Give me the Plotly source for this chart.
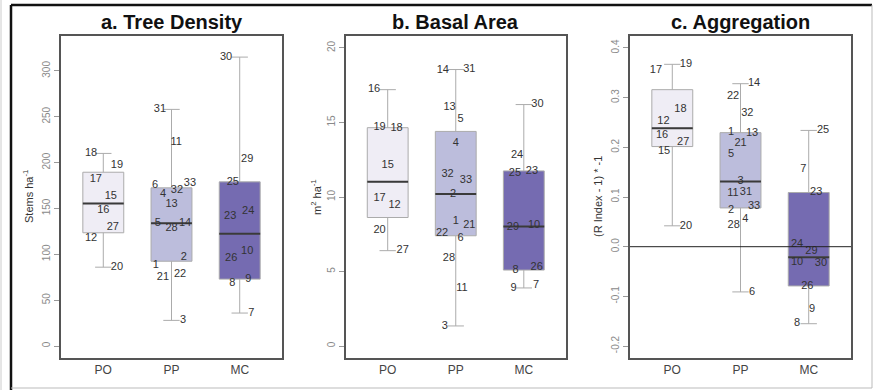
import numpy as np
import plotly.graph_objects as go

# ---------------------------------------------------------------- data
groups = ["PO", "PP", "MC"]

# plot IDs in each management group
po_ids = [12, 15, 16, 17, 18, 19, 20, 27]
pp_ids = [1, 2, 3, 4, 5, 6, 11, 13, 14, 21, 22, 28, 31, 32, 33]
mc_ids = [7, 8, 9, 10, 23, 24, 25, 26, 29, 30]

# a. tree density (stems per ha)
density_po = [118, 163, 148, 182, 210, 197, 86, 129]
density_pp = [88, 97, 28, 165, 134, 175, 222, 155, 134, 75, 78, 128, 258, 170, 178]
density_mc = [36, 69, 73, 103, 142, 147, 179, 96, 204, 315]

# b. basal area (m2 per ha)
basal_po = [9.45, 12.15, 17.2, 9.9, 14.6, 14.7, 7.8, 6.4]
basal_pp = [8.4, 10.2, 1.35, 13.6, 15.2, 7.2, 3.9, 16.05, 18.5, 8.1, 7.6, 5.9, 18.55, 11.5, 11.1]
basal_mc = [4.1, 5.1, 3.9, 8.1, 11.75, 12.8, 11.6, 5.3, 7.95, 16.2]

# c. aggregation, (R index - 1) * -1
aggr_po = [0.252, 0.193, 0.225, 0.355, 0.277, 0.367, 0.042, 0.210]
aggr_pp = [0.230, 0.074, 0.131, 0.056, 0.187, -0.091, 0.108, 0.229, 0.328, 0.209,
           0.302, 0.044, 0.110, 0.269, 0.082]
aggr_mc = [0.155, -0.155, -0.125, -0.032, 0.109, 0.004, 0.234, -0.079, -0.010, -0.034]

# y tick labels
density_ticks = [0, 50, 100, 150, 200, 250, 300]
basal_ticks = [0, 5, 10, 15, 20]
aggr_ticks = [-0.2, -0.1, 0.0, 0.1, 0.2, 0.3, 0.4]
aggr_ticklabels = ["-0.2", "-0.1", "0.0", "0.1", "0.2", "0.3", "0.4"]

# ------------------------------------------------ label nudges (x units)
density_dx = [
    [-0.18, 0.11, 0.0, -0.11, -0.18, 0.20, 0.20, 0.14],
    [-0.23, 0.18, 0.17, -0.125, -0.20, -0.24, 0.07, 0.0, 0.20, -0.125, 0.125, 0.0, -0.17, 0.08, 0.27],
    [0.17, -0.11, 0.125, 0.11, -0.14, 0.125, -0.10, -0.125, 0.11, -0.20],
]
basal_dx = [
    [0.10, 0.0, -0.20, -0.12, 0.13, -0.12, -0.12, 0.22],
    [0.0, -0.04, -0.16, 0.0, 0.07, 0.07, 0.09, -0.09, -0.19, 0.20, -0.20, -0.10, 0.20, -0.12, 0.15],
    [0.18, -0.12, -0.15, 0.15, 0.12, -0.10, -0.13, 0.19, -0.16, 0.20],
]
aggr_dx = [
    [-0.13, -0.12, -0.15, -0.24, 0.12, 0.20, 0.20, 0.16],
    [-0.14, -0.14, 0.0, 0.07, -0.14, 0.17, -0.11, 0.17, 0.20, 0.0, -0.11, -0.10, 0.08, 0.10, 0.20],
    [-0.08, -0.17, 0.05, -0.17, 0.11, -0.17, 0.21, -0.02, 0.04, 0.18],
]

# ---------------------------------------------------------------- style
W, H = 875, 390
FONT = "Liberation Sans, Arial, sans-serif"
fills = ["#EFEDF5", "#BCBDDC", "#756BB1"]
ids = [po_ids, pp_ids, mc_ids]

panels = [
    dict(title="a. Tree Density", ytitle="Stems ha<sup>-1</sup>",
         values=[density_po, density_pp, density_mc], dx=density_dx,
         ticks=density_ticks, ticktext=[str(t) for t in density_ticks],
         yrange=[-13, 338], left=61, right=282, ytitle_x=28),
    dict(title="b. Basal Area", ytitle="m<sup>2</sup> ha<sup>-1</sup>",
         values=[basal_po, basal_pp, basal_mc], dx=basal_dx,
         ticks=basal_ticks, ticktext=[str(t) for t in basal_ticks],
         yrange=[-0.8, 20.8], left=345.5, right=566, ytitle_x=316),
    dict(title="c. Aggregation", ytitle="(R Index - 1) * -1",
         values=[aggr_po, aggr_pp, aggr_mc], dx=aggr_dx,
         ticks=aggr_ticks, ticktext=aggr_ticklabels,
         yrange=[-0.224, 0.424], left=630, right=851, ytitle_x=598),
]

PLOT_TOP, PLOT_BOTTOM = 36, 358
xs = [1, 2, 3]

fig = go.Figure()
layout = dict(
    width=W, height=H,
    margin=dict(l=0, r=0, t=0, b=0),
    paper_bgcolor="white", plot_bgcolor="white",
    showlegend=False,
    font=dict(family=FONT, color="#333"),
    annotations=[], shapes=[],
)

for k, p in enumerate(panels):
    suffix = "" if k == 0 else str(k + 1)
    xa, ya = "x" + suffix, "y" + suffix

    for g in range(3):
        vals = p["values"][g]
        fig.add_trace(go.Box(
            x=[xs[g]] * len(vals), y=vals,
            xaxis=xa, yaxis=ya,
            width=0.6, whiskerwidth=0.4,
            quartilemethod="inclusive",
            boxpoints=False,
            fillcolor=fills[g],
            line=dict(color="#ababab", width=1),
            hoverinfo="skip",
        ))
        med = float(np.median(vals))
        fig.add_trace(go.Scatter(
            x=[xs[g] - 0.3, xs[g] + 0.3], y=[med, med],
            xaxis=xa, yaxis=ya, mode="lines",
            line=dict(color="#3a3a3a", width=2),
            hoverinfo="skip",
        ))

    if k == 2:
        # reference line at zero aggregation
        layout["shapes"].append(dict(
            type="line", xref="x3 domain", yref="y3",
            x0=0, x1=1, y0=0, y1=0, layer="above",
            line=dict(color="#222", width=1),
        ))

    for g in range(3):
        vals = p["values"][g]
        fig.add_trace(go.Scatter(
            x=[xs[g] + d for d in p["dx"][g]], y=vals,
            xaxis=xa, yaxis=ya, mode="text",
            text=[str(i) for i in ids[g]],
            textposition="middle center",
            textfont=dict(size=11, color="#333", family=FONT),
            cliponaxis=False, hoverinfo="skip",
        ))

    layout["xaxis" + suffix] = dict(
        domain=[p["left"] / W, p["right"] / W], anchor=ya,
        range=[0.38, 3.62], tickvals=xs, ticktext=groups,
        ticks="", showgrid=False, zeroline=False,
        showline=True, mirror=True, linecolor="#555", linewidth=2,
        tickfont=dict(size=12, color="#444"),
    )
    layout["yaxis" + suffix] = dict(
        domain=[1 - PLOT_BOTTOM / H, 1 - PLOT_TOP / H], anchor=xa,
        range=p["yrange"], tickvals=p["ticks"], ticktext=p["ticktext"],
        tickangle=-90, ticks="outside", ticklen=5, tickcolor="#999",
        showgrid=False, zeroline=False,
        showline=True, mirror=True, linecolor="#555", linewidth=2,
        tickfont=dict(size=10, color="#8a8a8a"),
    )
    layout["annotations"].append(dict(
        text="<b>%s</b>" % p["title"], xref="paper", yref="paper",
        x=(p["left"] + p["right"]) / 2 / W, y=1 - 22 / H,
        xanchor="center", yanchor="middle", showarrow=False,
        font=dict(size=20, color="#111", family=FONT),
    ))
    layout["annotations"].append(dict(
        text=p["ytitle"], xref="paper", yref="paper",
        x=p["ytitle_x"] / W, y=1 - (PLOT_TOP + PLOT_BOTTOM) / 2 / H,
        xanchor="center", yanchor="middle", textangle=-90, showarrow=False,
        font=dict(size=11, color="#333", family=FONT),
    ))

# outer frame
layout["shapes"] += [
    dict(type="line", xref="paper", yref="paper", x0=11 / W, x1=872 / W,
         y0=1 - 5 / H, y1=1 - 5 / H, line=dict(color="#111", width=2.5)),
    dict(type="line", xref="paper", yref="paper", x0=11 / W, x1=11 / W,
         y0=0, y1=1 - 5 / H, line=dict(color="#111", width=2.5)),
    dict(type="line", xref="paper", yref="paper", x0=872 / W, x1=872 / W,
         y0=2 / H, y1=1 - 5 / H, line=dict(color="#bbb", width=1)),
    dict(type="line", xref="paper", yref="paper", x0=11 / W, x1=872 / W,
         y0=2 / H, y1=2 / H, line=dict(color="#bbb", width=1)),
    dict(type="line", xref="paper", yref="paper", x0=1 / W, x1=1 / W,
         y0=0, y1=1, line=dict(color="#ccc", width=1)),
]

fig.update_layout(**layout)
fig.write_html("out.html")
